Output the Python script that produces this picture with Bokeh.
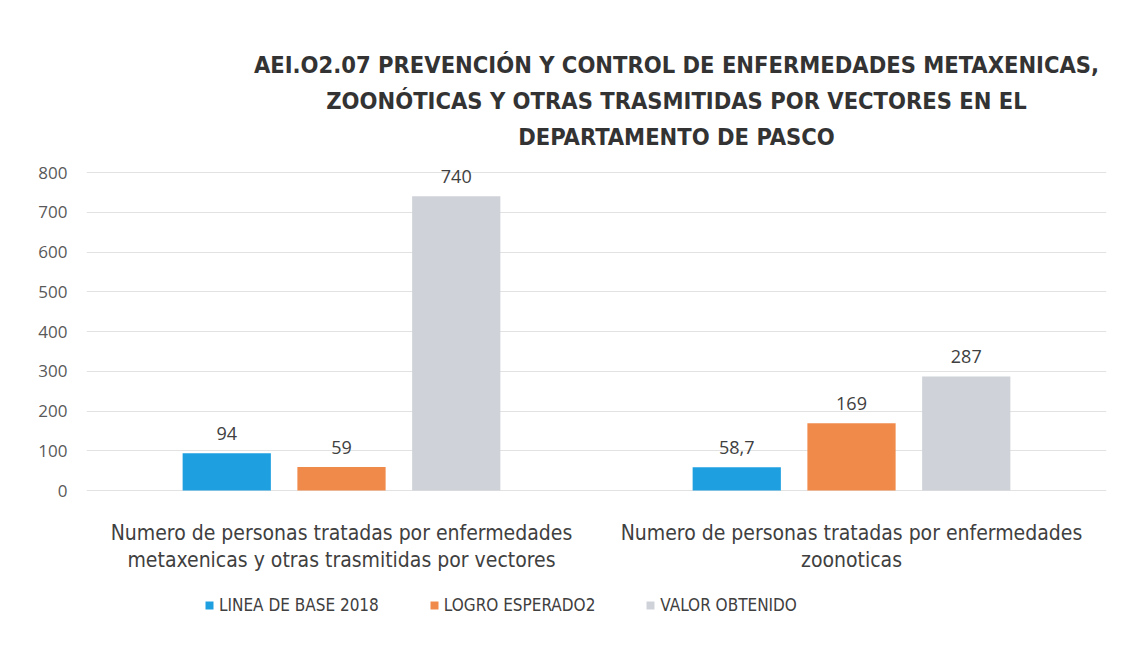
from bokeh.plotting import figure
from bokeh.models import FactorRange, ColumnDataSource, LabelSet, Label, Legend, LegendItem
from bokeh.transform import dodge
from bokeh.core.properties import value
from bokeh.embed import file_html
from bokeh.resources import INLINE

categories = [
    "Numero de personas tratadas por enfermedades metaxenicas y otras trasmitidas por vectores",
    "Numero de personas tratadas por enfermedades zoonoticas",
]
category_line1 = ["Numero de personas tratadas por enfermedades",
                  "Numero de personas tratadas por enfermedades"]
category_line2 = ["metaxenicas y otras trasmitidas por vectores", "zoonoticas"]
series_names = ["LINEA DE BASE 2018", "LOGRO ESPERADO2", "VALOR OBTENIDO"]
linea_base = [94, 58.7]
logro_esperado = [59, 169]
valor_obtenido = [740, 287]
label_base = ["94", "58,7"]
label_logro = ["59", "169"]
label_valor = ["740", "287"]
y_ticks = [0, 100, 200, 300, 400, 500, 600, 700, 800]
title_lines = [
    "AEI.O2.07 PREVENCIÓN Y CONTROL DE ENFERMEDADES METAXENICAS,",
    "ZOONÓTICAS Y OTRAS TRASMITIDAS POR VECTORES EN EL",
    "DEPARTAMENTO DE PASCO",
]

NARROW = "DejaVu Sans Condensed"
colors = ["#1E9FE0", "#F08A4B", "#CFD2D8"]
offsets = [-0.225, 0.0, 0.225]
bar_w = 0.173

H = 650
PX = (490 - 172) / 800.0          # pixels per unit
y_lo = -(H - 490) / PX
y_hi = 490 / PX

src = ColumnDataSource(dict(
    cat=categories,
    base=linea_base, logro=logro_esperado, valor=valor_obtenido,
    lbase=label_base, llogro=label_logro, lvalor=label_valor,
    l1=category_line1, l2=category_line2,
    y1=[-(532 - 490) / PX] * 2, y2=[-(559 - 490) / PX] * 2,
))

p = figure(
    x_range=FactorRange(factors=categories, range_padding=0),
    y_range=(y_lo, y_hi),
    width=1117, height=H,
    output_backend="svg", toolbar_location=None,
    min_border_left=86, min_border_right=11,
    min_border_top=0, min_border_bottom=0,
)
p.outline_line_color = None
p.background_fill_color = "white"
p.xaxis.visible = False

fields = ["base", "logro", "valor"]
lfields = ["lbase", "llogro", "lvalor"]
renderers = []
for f, lf, off, c in zip(fields, lfields, offsets, colors):
    r = p.vbar(x=dodge("cat", off, range=p.x_range), top=f, width=bar_w,
               source=src, fill_color=c, line_color=None)
    renderers.append(r)
    ls = LabelSet(x=dodge("cat", off, range=p.x_range), y=f, text=lf, source=src,
                  text_align="center", text_baseline="bottom", y_offset=13,
                  text_font=value("Open Sans"), text_font_size=value("18px"),
                  text_color="#404040")
    p.add_layout(ls)

# category labels under the groups (each line centred)
for txt, yy in (("l1", "y1"), ("l2", "y2")):
    p.add_layout(LabelSet(x="cat", y=yy, text=txt, source=src,
                          text_align="center", text_baseline="middle",
                          text_font=value(NARROW), text_font_size=value("21px"),
                          text_color="#404040"))

# y axis
p.yaxis.ticker = y_ticks
p.yaxis.axis_line_color = None
p.yaxis.major_tick_line_color = None
p.yaxis.minor_tick_line_color = None
p.yaxis.major_label_text_font = "Open Sans"
p.yaxis.major_label_text_font_size = "17px"
p.yaxis.major_label_text_color = "#595959"
p.yaxis.major_label_standoff = 13

p.xgrid.grid_line_color = None
p.ygrid.ticker = y_ticks
p.ygrid.grid_line_color = "#E2E2E2"
p.ygrid.grid_line_width = 1

# title lines (screen units from the frame's bottom-left)
title_y = [586, 550, 514]
for t, yy in zip(title_lines, title_y):
    p.add_layout(Label(x=590, y=yy, x_units="screen", y_units="screen", text=t,
                       text_align="center", text_baseline="middle",
                       text_font=NARROW, text_font_style="bold",
                       text_font_size="23.5px", text_color="#333333"))

legend = Legend(
    items=[LegendItem(label=n, renderers=[r]) for n, r in zip(series_names, renderers)],
    orientation="horizontal", location=(118, 35),
    border_line_color=None, background_fill_alpha=0,
    glyph_width=10, glyph_height=10, label_standoff=5, spacing=50,
    padding=0, margin=0,
    label_text_font=NARROW, label_text_font_size="17px",
    label_text_color="#404040",
)
p.add_layout(legend, "center")

open("out.html", "w").write(file_html(p, INLINE))
